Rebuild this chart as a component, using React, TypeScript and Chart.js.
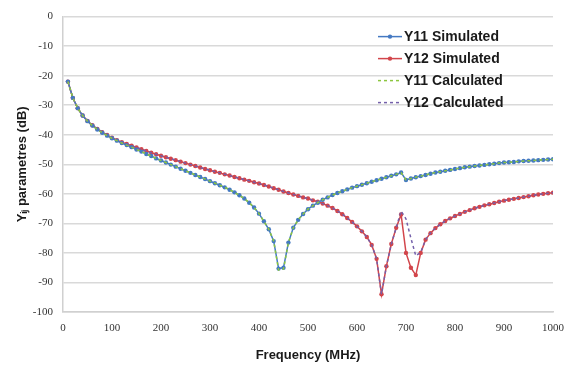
import React, { useEffect, useRef } from 'react';
import { Chart, registerables } from 'chart.js';

Chart.register(...registerables);

const freq = [
  10, 20, 30, 40, 50, 60, 70, 80, 90, 100,
  110, 120, 130, 140, 150, 160, 170, 180, 190, 200,
  210, 220, 230, 240, 250, 260, 270, 280, 290, 300,
  310, 320, 330, 340, 350, 360, 370, 380, 390, 400,
  410, 420, 430, 440, 450, 460, 470, 480, 490, 500,
  510, 520, 530, 540, 550, 560, 570, 580, 590, 600,
  610, 620, 630, 640, 650, 660, 670, 680, 690, 700,
  710, 720, 730, 740, 750, 760, 770, 780, 790, 800,
  810, 820, 830, 840, 850, 860, 870, 880, 890, 900,
  910, 920, 930, 940, 950, 960, 970, 980, 990, 1000,
];

const y11Simulated = [
  -22, -27.5, -31, -33.5, -35.4, -36.9, -38.2, -39.3, -40.3, -41.2,
  -42, -42.8, -43.5, -44.2, -45, -45.7, -46.5, -47.2, -48, -48.7,
  -49.4, -50.1, -50.8, -51.5, -52.2, -52.9, -53.6, -54.3, -55, -55.7,
  -56.4, -57.1, -57.8, -58.6, -59.5, -60.5, -61.6, -63, -64.6, -66.7,
  -69.3, -72, -76, -85.3, -85, -76.5, -71.5, -68.8, -66.8, -65.2,
  -64, -63, -62, -61.2, -60.4, -59.7, -59.1, -58.5, -57.9, -57.4,
  -56.9, -56.4, -55.9, -55.4, -54.9, -54.4, -53.9, -53.4, -52.8, -55.3,
  -54.8, -54.4, -54, -53.6, -53.2, -52.8, -52.5, -52.2, -51.9, -51.6,
  -51.3, -51, -50.8, -50.6, -50.4, -50.2, -50, -49.8, -49.6, -49.4,
  -49.3, -49.2, -49, -48.9, -48.8, -48.7, -48.6, -48.5, -48.4, -48.3,
];

const y12Simulated = [
  -22, -27.5, -31, -33.5, -35.3, -36.8, -38, -39.1, -40.1, -41,
  -41.8, -42.5, -43.1, -43.7, -44.3, -44.9, -45.5, -46.1, -46.6, -47.1,
  -47.6, -48.1, -48.6, -49.1, -49.6, -50.1, -50.6, -51.1, -51.6, -52,
  -52.5, -52.9, -53.4, -53.8, -54.3, -54.7, -55.2, -55.6, -56.1, -56.5,
  -57, -57.5, -58.1, -58.6, -59.2, -59.7, -60.2, -60.7, -61.2, -61.6,
  -62.2, -62.7, -63.3, -64, -64.8, -65.8, -66.9, -68.2, -69.5, -71,
  -72.7, -74.6, -77.3, -82, -94, -84.5, -77, -71.5, -67, -80,
  -85, -87.5, -80, -75.5, -73.3, -71.6, -70.3, -69.2, -68.3, -67.5,
  -66.8, -66.1, -65.5, -64.9, -64.4, -63.9, -63.5, -63.1, -62.7, -62.3,
  -62, -61.7, -61.4, -61.1, -60.8, -60.5, -60.2, -60, -59.8, -59.6,
];

const y11Calculated = [
  -22, -27.5, -31, -33.5, -35.4, -36.9, -38.2, -39.3, -40.3, -41.2,
  -42, -42.8, -43.5, -44.2, -45, -45.7, -46.5, -47.2, -48, -48.7,
  -49.4, -50.1, -50.8, -51.5, -52.2, -52.9, -53.6, -54.3, -55, -55.7,
  -56.4, -57.1, -57.8, -58.6, -59.5, -60.5, -61.6, -63, -64.6, -66.7,
  -69.3, -72, -76, -85.8, -85.5, -76.5, -71.5, -68.8, -66.8, -65.2,
  -64, -63, -62, -61.2, -60.4, -59.7, -59.1, -58.5, -57.9, -57.4,
  -56.9, -56.4, -55.9, -55.4, -54.9, -54.4, -53.9, -53.4, -52.8, -55.3,
  -54.8, -54.4, -54, -53.6, -53.2, -52.8, -52.5, -52.2, -51.9, -51.6,
  -51.3, -51, -50.8, -50.6, -50.4, -50.2, -50, -49.8, -49.6, -49.4,
  -49.3, -49.2, -49, -48.9, -48.8, -48.7, -48.6, -48.5, -48.4, -48.3,
];

const y12Calculated = [
  -22, -27.5, -31, -33.5, -35.3, -36.8, -38, -39.1, -40.1, -41,
  -41.8, -42.5, -43.1, -43.7, -44.3, -44.9, -45.5, -46.1, -46.6, -47.1,
  -47.6, -48.1, -48.6, -49.1, -49.6, -50.1, -50.6, -51.1, -51.6, -52,
  -52.5, -52.9, -53.4, -53.8, -54.3, -54.7, -55.2, -55.6, -56.1, -56.5,
  -57, -57.5, -58.1, -58.6, -59.2, -59.7, -60.2, -60.7, -61.2, -61.6,
  -62.2, -62.7, -63.3, -64, -64.8, -65.8, -66.9, -68.2, -69.5, -71,
  -72.7, -74.6, -77.3, -82, -94, -84.5, -77, -71.5, -65.8, -68.5,
  -75, -81, -79.8, -75.5, -73.3, -71.6, -70.3, -69.2, -68.3, -67.5,
  -66.8, -66.1, -65.5, -64.9, -64.4, -63.9, -63.5, -63.1, -62.7, -62.3,
  -62, -61.7, -61.4, -61.1, -60.8, -60.5, -60.2, -60, -59.8, -59.6,
];

const seriesLabels = ['Y11 Simulated', 'Y12 Simulated', 'Y11 Calculated', 'Y12 Calculated'];
const xTitle = 'Frequency (MHz)';
const yTitle = 'Y\u1D62\u2C7C parametres (dB)';

const toPoints = (ys: number[]) => freq.map((f, i) => ({ x: f, y: ys[i] }));

const legendPlugin = {
  id: 'insideLegend',
  afterDraw(chart: any) {
    const { ctx, chartArea } = chart;
    const x0 = chartArea.right - 175;
    const y0 = chartArea.top + 20;
    ctx.save();
    chart.data.datasets.forEach((ds: any, row: number) => {
      const y = y0 + row * 22;
      ctx.strokeStyle = ds.borderColor;
      ctx.lineWidth = 1.5;
      ctx.setLineDash(ds.borderDash || []);
      ctx.beginPath();
      ctx.moveTo(x0, y);
      ctx.lineTo(x0 + 24, y);
      ctx.stroke();
      ctx.setLineDash([]);
      if (ds.pointRadius > 0) {
        ctx.fillStyle = ds.pointBackgroundColor;
        ctx.beginPath();
        ctx.arc(x0 + 12, y, 2.2, 0, Math.PI * 2);
        ctx.fill();
      }
      ctx.fillStyle = '#1a1a1a';
      ctx.font = 'bold 14px "Liberation Sans", Arial, sans-serif';
      ctx.textAlign = 'left';
      ctx.textBaseline = 'middle';
      ctx.fillText(ds.label, x0 + 26, y + 1);
    });
    ctx.restore();
  },
};

export default function App() {
  const canvasRef = useRef<HTMLCanvasElement | null>(null);

  useEffect(() => {
    document.body.style.margin = '0';
    const canvas = canvasRef.current;
    if (!canvas) return;
    const blue = '#4479c2';
    const red = '#d2454b';
    const green = '#8cc63f';
    const purple = '#7460aa';
    const chart = new Chart(canvas, {
      type: 'line',
      data: {
        datasets: [
          {
            label: seriesLabels[0],
            data: toPoints(y11Simulated),
            borderColor: blue,
            backgroundColor: blue,
            pointBackgroundColor: blue,
            pointBorderWidth: 0,
            pointRadius: 2.2,
            borderWidth: 1.5,
            order: 2,
          },
          {
            label: seriesLabels[1],
            data: toPoints(y12Simulated),
            borderColor: red,
            backgroundColor: red,
            pointBackgroundColor: red,
            pointBorderWidth: 0,
            pointRadius: 2.2,
            borderWidth: 1.5,
            order: 2,
          },
          {
            label: seriesLabels[2],
            data: toPoints(y11Calculated),
            borderColor: green,
            backgroundColor: green,
            borderDash: [3, 3],
            pointRadius: 0,
            borderWidth: 1.5,
            order: 1,
          },
          {
            label: seriesLabels[3],
            data: toPoints(y12Calculated),
            borderColor: purple,
            backgroundColor: purple,
            borderDash: [3, 3],
            pointRadius: 0,
            borderWidth: 1.5,
            order: 1,
          },
        ],
      },
      options: {
        responsive: false,
        animation: false,
        events: [],
        layout: { padding: { top: 15, right: 0, left: 0, bottom: 0 } },
        plugins: {
          legend: { display: false },
          tooltip: { enabled: false },
        },
        scales: {
          x: {
            type: 'linear',
            min: 0,
            max: 1000,
            ticks: {
              stepSize: 100,
              padding: 10,
              color: '#333',
              font: { family: '"Liberation Serif", serif', size: 11 },
              maxRotation: 0,
              callback: (v: any) => String(v),
            },
            grid: { display: false, drawTicks: false },
            border: { display: true, color: '#d0d0d0', width: 1.5 },
            title: {
              display: true,
              text: xTitle,
              color: '#1a1a1a',
              font: { family: '"Liberation Sans", Arial, sans-serif', size: 13, weight: 'bold' },
              padding: { top: 0, bottom: 7 },
            },
            afterFit: (scale: any) => {
              scale.height = 58;
              scale.paddingRight = 12;
            },
          },
          y: {
            type: 'linear',
            min: -100,
            max: 0,
            ticks: {
              stepSize: 10,
              padding: 10,
              color: '#333',
              font: { family: '"Liberation Serif", serif', size: 11 },
            },
            grid: { color: '#d9d9d9', lineWidth: 1.5, drawTicks: false },
            border: { display: true, color: '#d0d0d0', width: 1.5 },
            title: {
              display: true,
              text: yTitle,
              color: '#1a1a1a',
              font: { family: '"Liberation Sans", Arial, sans-serif', size: 13, weight: 'bold' },
              padding: { top: 15, bottom: 0 },
            },
            afterFit: (scale: any) => {
              scale.width = 63;
            },
          },
        },
      } as any,
      plugins: [legendPlugin],
    });
    return () => chart.destroy();
  }, []);

  return (
    <div style={{ width: 565, height: 370, position: 'absolute', left: 0, top: 0, background: '#fff' }}>
      <canvas ref={canvasRef} width={565} height={370} />
    </div>
  );
}
